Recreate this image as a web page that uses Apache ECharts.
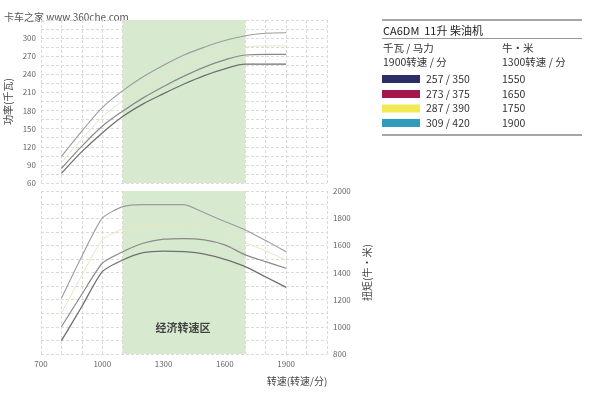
<!DOCTYPE html>
<html><head><meta charset="utf-8">
<script src="https://cdn.jsdelivr.net/npm/echarts@6/dist/echarts.min.js"></script>
<style>html,body{margin:0;padding:0;background:#fff}#c{width:600px;height:400px}</style>
</head><body><div id="c"></div>
<script>
const rpm = [800, 900, 1000, 1100, 1200, 1300, 1400, 1500, 1600, 1700, 1800, 1900];
const power257 = [76, 112, 143, 170, 191, 208, 224, 238, 249, 257, 257, 257];
const power273 = [84, 121, 154, 179, 201, 220, 237, 252, 264, 272, 273, 273];
const power287 = [94, 133, 169, 196, 218, 237, 253, 267, 278, 285, 287, 287];
const power309 = [104, 146, 185, 213, 236, 255, 272, 285, 296, 304, 308, 309];
const torque1550 = [898, 1150, 1406, 1492, 1546, 1558, 1553, 1536, 1497, 1443, 1367, 1291];
const torque1650 = [1001, 1240, 1468, 1553, 1615, 1645, 1650, 1640, 1603, 1530, 1480, 1431];
const torque1750 = [1100, 1380, 1640, 1720, 1750, 1750, 1750, 1730, 1690, 1620, 1560, 1490];
const torque1900 = [1210, 1520, 1800, 1885, 1900, 1900, 1900, 1840, 1775, 1713, 1635, 1553];
const ecoZone = [1100, 1700];
const xTickLabels = [700, 1000, 1300, 1600, 1900];
const powerTickLabels = [60, 90, 120, 150, 180, 210, 240, 270, 300];
const torqueTickLabels = [800, 1000, 1200, 1400, 1600, 1800, 2000];
const legendColors = ['#2b2e68', '#a5174d', '#f2ea55', '#2f9bbd'];
const legendPower = ['257 / 350', '273 / 375', '287 / 390', '309 / 420'];
const legendTorque = ['1550', '1650', '1750', '1900'];

const FONT = '"Noto Sans CJK SC", "Noto Sans", sans-serif';
const pair = arr => rpm.map((r, i) => [r, arr[i]]);
const splitStyle = {show: true, lineStyle: {color: '#dadada', type: [3, 2], width: 1}};
const green = {silent: true, itemStyle: {color: '#d7e9cf'}, data: [[{xAxis: ecoZone[0]}, {xAxis: ecoZone[1]}]]};

function line(name, data, xi, color, w, z, area) {
  const s = {name, type: 'line', xAxisIndex: xi, yAxisIndex: xi, data: pair(data), showSymbol: false,
    smooth: xi === 0 ? 0.35 : 0.2, lineStyle: {color, width: w}, z};
  if (area) s.markArea = green;
  return s;
}

const chart = echarts.init(document.getElementById('c'));
const gfx = [];
gfx.push({type: 'text', left: 4, top: 12, style: {text: '卡车之家 www.360che.com', fontSize: 10, fill: '#555', fontFamily: FONT}});
gfx.push({type: 'text', x: 297, y: 381, style: {text: '转速(转速/分)', fontSize: 10, fill: '#444', fontFamily: FONT, align: 'center', verticalAlign: 'middle'}});
gfx.push({type: 'text', x: 183, y: 328, z: 10, style: {text: '经济转速区', fontSize: 11, fontWeight: 'bold', fill: '#444', fontFamily: FONT, align: 'center', verticalAlign: 'middle'}});
gfx.push({type: 'line', shape: {x1: 382, y1: 20, x2: 582, y2: 20}, style: {stroke: '#888', lineWidth: 1.5}});
gfx.push({type: 'text', x: 383, y: 31, style: {text: 'CA6DM  11升 柴油机', fontSize: 11, fill: '#222', fontFamily: FONT, verticalAlign: 'middle'}});
gfx.push({type: 'line', shape: {x1: 382, y1: 38.5, x2: 582, y2: 38.5}, style: {stroke: '#999', lineWidth: 1}});
gfx.push({type: 'text', x: 383, y: 48, style: {text: '千瓦 / 马力', fontSize: 10.5, fill: '#333', fontFamily: FONT, verticalAlign: 'middle'}});
gfx.push({type: 'text', x: 502, y: 48, style: {text: '牛·米', fontSize: 10.5, fill: '#333', fontFamily: FONT, verticalAlign: 'middle'}});
gfx.push({type: 'text', x: 383, y: 62, style: {text: '1900转速 / 分', fontSize: 10.5, fill: '#333', fontFamily: FONT, verticalAlign: 'middle'}});
gfx.push({type: 'text', x: 502, y: 62, style: {text: '1300转速 / 分', fontSize: 10.5, fill: '#333', fontFamily: FONT, verticalAlign: 'middle'}});
const rowsY = [79, 94, 108.5, 123];
legendColors.forEach((c, i) => {
  gfx.push({type: 'rect', shape: {x: 382, y: rowsY[i] - 4, width: 38, height: 8}, style: {fill: c}});
  gfx.push({type: 'text', x: 426, y: rowsY[i], style: {text: legendPower[i], fontSize: 10.5, fill: '#333', fontFamily: FONT, verticalAlign: 'middle'}});
  gfx.push({type: 'text', x: 502, y: rowsY[i], style: {text: legendTorque[i], fontSize: 10.5, fill: '#333', fontFamily: FONT, verticalAlign: 'middle'}});
});
gfx.push({type: 'line', shape: {x1: 382, y1: 135, x2: 582, y2: 135}, style: {stroke: '#888', lineWidth: 1.5}});

chart.setOption({
  animation: false,
  backgroundColor: '#fff',
  textStyle: {fontFamily: FONT},
  grid: [
    {left: 41, top: 20, width: 286, height: 163},
    {left: 41, top: 191, width: 286, height: 163}
  ],
  xAxis: [
    {type: 'value', gridIndex: 0, min: 700, max: 2100, interval: 100, axisLine: {show: false}, axisTick: {show: false},
      axisLabel: {show: false}, splitLine: splitStyle},
    {type: 'value', gridIndex: 1, min: 700, max: 2100, interval: 100, axisLine: {show: false}, axisTick: {show: false},
      axisLabel: {fontSize: 8, color: '#666', margin: 6, formatter: v => xTickLabels.includes(v) ? String(v) : ''},
      splitLine: splitStyle}
  ],
  yAxis: [
    {type: 'value', gridIndex: 0, min: 60, max: 330, interval: 15, axisLine: {show: false}, axisTick: {show: false},
      axisLabel: {fontSize: 8, color: '#666', margin: 5, formatter: v => powerTickLabels.includes(v) ? String(v) : ''},
      splitLine: splitStyle,
      name: '功率(千瓦)', nameLocation: 'middle', nameRotate: 90, nameGap: 28,
      nameTextStyle: {fontSize: 10, color: '#444'}},
    {type: 'value', gridIndex: 1, position: 'right', min: 800, max: 2000, interval: 100, axisLine: {show: false}, axisTick: {show: false},
      axisLabel: {fontSize: 8, color: '#666', margin: 6, formatter: v => torqueTickLabels.includes(v) ? String(v) : ''},
      splitLine: splitStyle,
      name: '扭矩(牛·米)', nameLocation: 'middle', nameRotate: 90, nameGap: 35,
      nameTextStyle: {fontSize: 10, color: '#444'}}
  ],
  series: [
    line('257kW', power257, 0, '#707070', 1.3, 5, true),
    line('273kW', power273, 0, '#8a8a8a', 1.2, 5),
    line('287kW', power287, 0, '#e9e7c2', 1, 4),
    line('309kW', power309, 0, '#9c9c9c', 1.1, 5),
    line('1550Nm', torque1550, 1, '#707070', 1.3, 5, true),
    line('1650Nm', torque1650, 1, '#8a8a8a', 1.2, 5),
    line('1750Nm', torque1750, 1, '#e9e7c2', 1, 4),
    line('1900Nm', torque1900, 1, '#9c9c9c', 1.1, 5)
  ],
  graphic: gfx
});
</script></body></html>
